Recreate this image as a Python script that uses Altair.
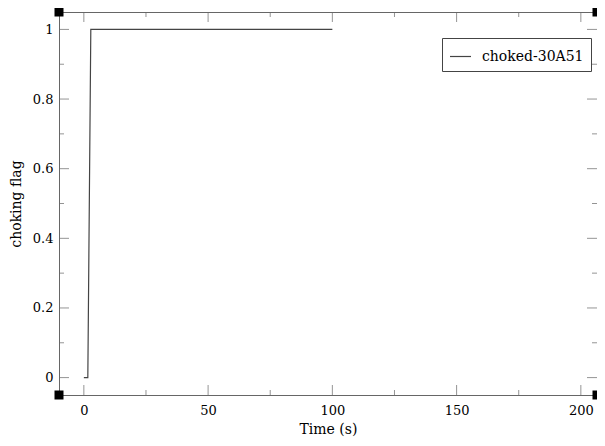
import altair as alt
import pandas as pd

# ---- data ----
time = [0, 1.6, 2.8, 100]
flag = [0, 0, 1, 1]
series_name = "choked-30A51"

x_domain = [-10, 206.5]
y_domain = [-0.05, 1.05]
x_major = [0, 50, 100, 150, 200]
x_minor = [25, 75, 125, 175]
y_major = [0, 0.2, 0.4, 0.6, 0.8, 1.0]
y_minor = [0.1, 0.3, 0.5, 0.7, 0.9]

FONT = "DejaVu Serif"
AX = "#666666"

xs = alt.Scale(domain=x_domain, nice=False, zero=False)
ys = alt.Scale(domain=y_domain, nice=False, zero=False)

line_df = pd.DataFrame({"t": time, "f": flag, "s": [series_name] * len(time)})

line = alt.Chart(line_df).mark_line(strokeWidth=1.2).encode(
    x=alt.X("t:Q", scale=xs, title="Time (s)",
            axis=alt.Axis(values=x_major, ticks=False, domain=False, grid=False,
                          labelPadding=9, titlePadding=5)),
    y=alt.Y("f:Q", scale=ys, title="choking flag",
            axis=alt.Axis(values=y_major, ticks=False, domain=False, grid=False,
                          format=".1~f", labelPadding=6, titlePadding=9)),
    color=alt.Color("s:N", scale=alt.Scale(range=["#444444"]), title=None,
                    legend=alt.Legend(orient="none", legendX=383, legendY=26,
                                      symbolType="stroke", symbolSize=441,
                                      symbolStrokeWidth=1.2,
                                      strokeColor="#444444", padding=7,
                                      labelFont=FONT, labelFontSize=14,
                                      labelColor="#000000", labelOffset=10)),
)

def ticks(vals, axis, size):
    if axis in ("bottom", "top"):
        yv = y_domain[0] if axis == "bottom" else y_domain[1]
        off = -size / 2 if axis == "bottom" else size / 2
        df = pd.DataFrame({"t": vals, "f": [yv] * len(vals)})
        return alt.Chart(df).mark_tick(orient="vertical", size=size, thickness=1,
                                       color=AX, yOffset=off, clip=False).encode(
            x=alt.X("t:Q", scale=xs), y=alt.Y("f:Q", scale=ys))
    else:
        xv = x_domain[0] if axis == "left" else x_domain[1]
        off = size / 2 if axis == "left" else -size / 2
        df = pd.DataFrame({"t": [xv] * len(vals), "f": vals})
        return alt.Chart(df).mark_tick(orient="horizontal", size=size, thickness=1,
                                       color=AX, xOffset=off, clip=False).encode(
            x=alt.X("t:Q", scale=xs), y=alt.Y("f:Q", scale=ys))

tick_layers = []
for side in ("bottom", "top"):
    tick_layers.append(ticks(x_major, side, 10))
    tick_layers.append(ticks(x_minor, side, 5))
for side in ("left", "right"):
    tick_layers.append(ticks(y_major, side, 10))
    tick_layers.append(ticks(y_minor, side, 5))

corner_df = pd.DataFrame({
    "t": [x_domain[0], x_domain[0], x_domain[1], x_domain[1]],
    "f": [y_domain[0], y_domain[1], y_domain[0], y_domain[1]],
})
corners = alt.Chart(corner_df).mark_square(size=81, color="#000000", opacity=1,
                                           clip=False).encode(
    x=alt.X("t:Q", scale=xs), y=alt.Y("f:Q", scale=ys))

chart = alt.layer(*tick_layers, line, corners).properties(
    width=538, height=383,
    autosize=alt.AutoSizeParams(type="none"),
    padding={"left": 51, "top": 4, "right": 0, "bottom": 43},
).configure_view(stroke=AX, strokeWidth=1).configure_axis(
    labelFont=FONT, labelFontSize=13, labelColor="#000000",
    titleFont=FONT, titleFontSize=14, titleColor="#000000", titleFontWeight="normal",
)

chart.save("out.html", embed_options={"renderer": "svg", "actions": False})
